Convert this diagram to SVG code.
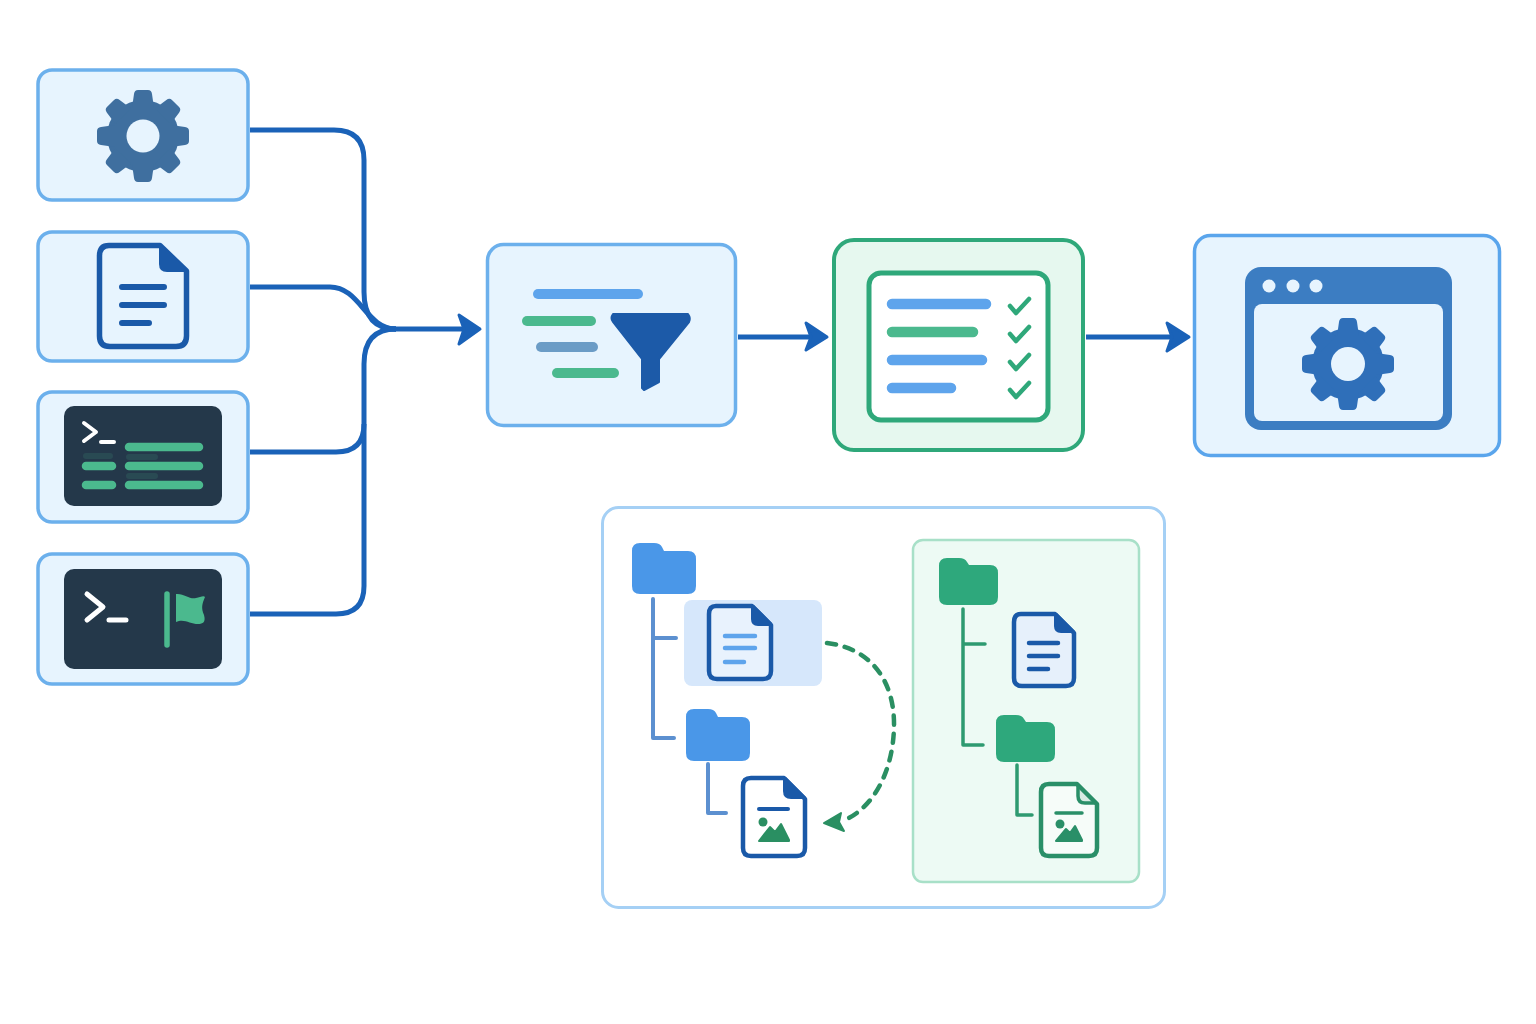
<svg xmlns="http://www.w3.org/2000/svg" width="1536" height="1024" viewBox="0 0 1536 1024">
<style>
.card{fill:#e7f4fe;stroke:#6cb0ec;stroke-width:3.5}
.dark{fill:#24384a}
.pr{fill:none;stroke:#fff;stroke-linecap:round;stroke-linejoin:round}
.con{fill:none;stroke:#1a62b8;stroke-width:5}
.head{fill:#1a62b8;stroke:#1a62b8;stroke-width:3;stroke-linejoin:round}
.bar{fill:none;stroke-linecap:round}
.g{stroke:#4bb98e}
.b{stroke:#5ea4ec}
.doc{stroke:#1a59a8;stroke-linejoin:round}
.dl{fill:none;stroke:#1a59a8;stroke-linecap:round}
.tb{fill:none;stroke:#5c90d0;stroke-width:4;stroke-linecap:round;stroke-linejoin:round}
.tg{fill:none;stroke:#2e9a70;stroke-width:3.5;stroke-linecap:round;stroke-linejoin:round}
.fb{fill:#4a97e8}
.fg{fill:#2ea87c}
.chk{fill:none;stroke:#2fa87a;stroke-width:4.5;stroke-linecap:round;stroke-linejoin:round}
.mt{fill:#2a8f62;stroke:#2a8f62;stroke-width:2;stroke-linejoin:round}
</style>
<defs>
<path id="tooth" d="M-11,-28 L-9,-42 Q-8.500,-46 -5,-46 H5 Q8.500,-46 9,-42 L11,-28 Z"/>
<g id="gearshape">
<circle r="36"/>
<use href="#tooth"/>
<use href="#tooth" transform="rotate(45)"/>
<use href="#tooth" transform="rotate(90)"/>
<use href="#tooth" transform="rotate(135)"/>
<use href="#tooth" transform="rotate(180)"/>
<use href="#tooth" transform="rotate(225)"/>
<use href="#tooth" transform="rotate(270)"/>
<use href="#tooth" transform="rotate(315)"/>
</g>
</defs>
<rect width="1536" height="1024" fill="#fff"/>

<g id="connectors">
<path class="con" d="M250,130 H334 Q364,130 364,160 V292 Q364,329 396,329"/>
<path class="con" d="M250,287 H330 C360,287 366,329 396,329"/>
<path class="con" d="M250,452 H336 Q364,452 364,424 V364 Q364,329 396,329"/>
<path class="con" d="M250,614 H336 Q364,614 364,586 V424"/>
<path class="con" d="M390,329 H466"/>
<path class="head" d="M480,329 L459,315 L464,329 L459,344 Z"/>
<path class="con" d="M738,337 H814"/>
<path class="head" d="M827,337 L806,323 L811,337 L806,350 Z"/>
<path class="con" d="M1086,337 H1174"/>
<path class="head" d="M1189,337 L1167,323 L1172,337 L1167,351 Z"/>
</g>

<g id="node-settings">
<rect class="card" x="38" y="70" width="210" height="130" rx="14"/>
<use href="#gearshape" transform="translate(143,136)" fill="#3f6f9f"/>
<circle cx="143" cy="136" r="16.500" fill="#e7f4fe"/>
</g>

<g id="node-document">
<rect class="card" x="38" y="232" width="210" height="129" rx="14"/>
<path class="doc" fill="none" stroke-width="5.500" d="M109,245.500 H160 L186.500,271 V336 Q186.500,346.500 176,346.500 H110 Q99.500,346.500 99.500,336 V256 Q99.500,245.500 109,245.500 Z"/>
<path fill="#1a59a8" d="M159,245 H162 L187,270 V272 H167 Q159,272 159,264 Z"/>
<path class="dl" stroke-width="6" d="M122,287 H164 M122,305 H164 M122,323 H149"/>
</g>

<g id="node-terminal-output">
<rect class="card" x="38" y="392" width="210" height="130" rx="14"/>
<rect class="dark" x="64" y="406" width="158" height="100" rx="10"/>
<path class="pr" stroke-width="4" d="M84,423 L96,432 L84,441 M101,442 H114"/>
<path class="bar g" stroke-width="6" opacity=".14" d="M86,456 H110 M129,457 H155 M129,476 H155"/>
<path class="bar g" stroke-width="8.500" d="M129,447 H199 M129,466 H199 M129,485 H199 M86,466 H112 M86,485 H112"/>
</g>

<g id="node-terminal-flag">
<rect class="card" x="38" y="554" width="210" height="130" rx="14"/>
<rect class="dark" x="64" y="569" width="158" height="100" rx="10"/>
<path class="pr" stroke-width="5" d="M87,594 L103,607 L87,620 M109,620 H126"/>
<path class="bar g" stroke-width="5.500" d="M167,594 V645"/>
<path fill="#4bb98e" d="M176,594 C184,593 190,600 196,598 C200,597 204,595 205,597 C202,604 201,608 204,615 C206,622 203,624 198,624 C190,624 184,618 176,622 Z"/>
</g>

<g id="node-filter">
<rect class="card" x="487.500" y="244.500" width="248" height="181" rx="16"/>
<path class="bar b" stroke-width="10" d="M538,294 H638"/>
<path class="bar g" stroke-width="10" d="M527,321 H591"/>
<path class="bar" stroke="#6b9cc6" stroke-width="10" d="M541,347 H593"/>
<path class="bar g" stroke-width="10" d="M557,373 H614"/>
<path fill="#1c5aa8" stroke="#1c5aa8" stroke-width="2" stroke-linejoin="round" d="M613,314 H688 Q691,318 689,322 L659,359 V382 L644,390 L642,388 V359 L613,322 Q610,318 613,314 Z"/>
</g>

<g id="node-checklist">
<rect x="834" y="240" width="249" height="210" rx="20" fill="#e6f8ef" stroke="#2fa87a" stroke-width="4"/>
<rect x="869" y="273" width="179" height="147" rx="12" fill="#fff" stroke="#2fa87a" stroke-width="5"/>
<path class="bar b" stroke-width="10.500" d="M892,304 H986 M892,360 H982 M892,388 H951"/>
<path class="bar g" stroke-width="10.500" d="M892,332 H973"/>
<path class="chk" d="M1010,306 L1016,313 L1029,299 M1010,334 L1016,341 L1029,327 M1010,362 L1016,369 L1029,355 M1010,390 L1016,397 L1029,383"/>
</g>

<g id="node-app">
<rect x="1194.500" y="235.500" width="305" height="220" rx="16" fill="#e7f4fe" stroke="#5aa5ec" stroke-width="3.500"/>
<rect x="1245" y="267" width="207" height="163" rx="16" fill="#3c7dc2"/>
<rect x="1254" y="304" width="189" height="117" rx="8" fill="#e7f4fe"/>
<g fill="#e7f4fe"><circle cx="1269" cy="286" r="6.500"/><circle cx="1293" cy="286" r="6.500"/><circle cx="1316" cy="286" r="6.500"/></g>
<use href="#gearshape" transform="translate(1348,364)" fill="#2f6fb9"/>
<circle cx="1348" cy="364" r="17" fill="#e7f4fe"/>
</g>

<g id="node-tree-panel">
<rect x="602.500" y="507.500" width="562" height="400" rx="16" fill="#fff" stroke="#a5d0f5" stroke-width="3"/>
</g>

<g id="node-source-tree">
<rect x="684" y="600" width="138" height="86" rx="8" fill="#d6e7fb"/>
<path class="tb" d="M653,599 V738 H674 M653,638 H676"/>
<path class="tb" d="M708,764 V813 H726"/>
<path class="fb" d="M640,543 H654 Q660,543 662,547 L664,551 H688 Q696,551 696,559 V586 Q696,594 688,594 H640 Q632,594 632,586 V551 Q632,543 640,543 Z"/>
<path class="fb" d="M694,709 H708 Q714,709 716,713 L718,717 H742 Q750,717 750,725 V753 Q750,761 742,761 H694 Q686,761 686,753 V717 Q686,709 694,709 Z"/>
<path class="doc" fill="#e8f2fd" stroke-width="4.500" d="M716,606 H752 L771,625 V671 Q771,679 763,679 H717 Q709,679 709,671 V614 Q709,606 716,606 Z"/>
<path fill="#1a59a8" d="M751,605 H754 L772,623 V626 H758 Q751,626 751,619 Z"/>
<path class="bar b" stroke-width="4.500" d="M725,636 H755 M725,648 H755 M725,662 H744"/>
<path class="doc" fill="#fff" stroke-width="4.500" d="M751,778 H784 L805,799 V848 Q805,856 797,856 H751 Q743,856 743,848 V786 Q743,778 751,778 Z"/>
<path fill="#1a59a8" d="M783,777 H786 L806,797 V799 H791 Q783,799 783,791 Z"/>
<path class="dl" stroke-width="4" d="M759,809 H788"/>
<circle cx="763" cy="822" r="4.500" fill="#2a8f62"/>
<path class="mt" d="M759,841 L770,827 L775,832 L781,824 L789,840 V841 Z"/>
<path fill="none" stroke="#2a8f62" stroke-width="4.500" stroke-dasharray="9 9" stroke-linecap="round" d="M827,643 C870,648 895,680 894,727 C893,770 875,805 847,819"/>
<path fill="#2a8f62" stroke="#2a8f62" stroke-width="2" stroke-linejoin="round" d="M824,823 L841,813 L839,822 L844,831 Z"/>
</g>

<g id="node-target-tree">
<rect x="913" y="540" width="226" height="342" rx="10" fill="#edfaf4" stroke="#a8e0c8" stroke-width="2.500"/>
<path class="tg" d="M963,609 V745 H983 M963,644 H985"/>
<path class="tg" d="M1017,765 V815 H1032"/>
<path class="fg" d="M947,558 H959 Q965,558 967,562 L969,565 H990 Q998,565 998,573 V597 Q998,605 990,605 H947 Q939,605 939,597 V566 Q939,558 947,558 Z"/>
<path class="fg" d="M1004,715 H1016 Q1022,715 1024,719 L1026,722 H1047 Q1055,722 1055,730 V754 Q1055,762 1047,762 H1004 Q996,762 996,754 V723 Q996,715 1004,715 Z"/>
<path class="doc" fill="#e6f0fb" stroke-width="4.500" d="M1021,614 H1055 L1074,633 V678 Q1074,686 1066,686 H1022 Q1014,686 1014,678 V622 Q1014,614 1021,614 Z"/>
<path fill="#1a59a8" d="M1054,613 H1057 L1075,631 V633 H1061 Q1054,633 1054,626 Z"/>
<path class="dl" stroke-width="4.500" d="M1029,643 H1058 M1029,656 H1058 M1029,669 H1048"/>
<path fill="#f6fcf9" stroke="#2a8f68" stroke-width="4.500" stroke-linejoin="round" d="M1049,784 H1077 L1097,804 V848 Q1097,856 1089,856 H1049 Q1041,856 1041,848 V792 Q1041,784 1049,784 Z"/>
<path fill="#2a8f68" d="M1077,784 H1079 L1098,803 V804 H1085 Q1078,804 1078,797 Z" opacity=".15"/>
<path fill="none" stroke="#2a8f68" stroke-width="3.500" stroke-linejoin="round" d="M1078,785 V796 Q1078,803 1085,803 H1096"/>
<path fill="none" stroke="#2a8f68" stroke-width="3.500" stroke-linecap="round" d="M1056,813 H1082"/>
<circle cx="1060" cy="824" r="4.500" fill="#2a8f68"/>
<path fill="#2a8f68" stroke="#2a8f68" stroke-width="2" stroke-linejoin="round" d="M1056,841 L1066,829 L1070,833 L1075,826 L1082,840 V841 Z"/>
</g>
</svg>
